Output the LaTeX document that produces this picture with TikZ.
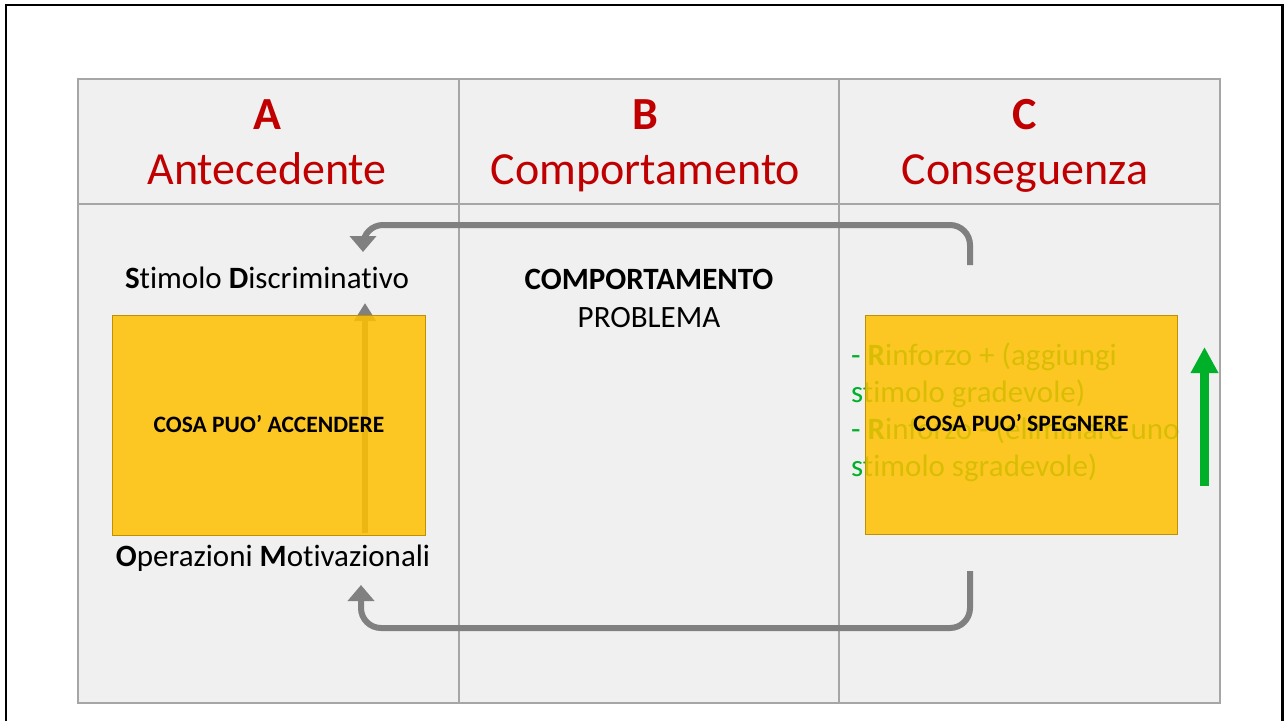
\documentclass[tikz,border=0pt]{standalone}
\usepackage{fontspec}
\setmainfont{Carlito}[Ligatures={NoCommon}]
\usetikzlibrary{arrows.meta}
\definecolor{hdrred}{RGB}{192,0,0}
\definecolor{tablebg}{RGB}{240,240,240}
\definecolor{gridgray}{RGB}{166,166,166}
\definecolor{boxgold}{RGB}{255,192,0}
\definecolor{boxedge}{RGB}{191,144,0}
\definecolor{loopgray}{RGB}{128,128,128}
\definecolor{txtgreen}{RGB}{0,176,40}
\tikzset{
  grid/.style={draw=gridgray, line width=1.3pt},
  hdr/.style={anchor=base, inner sep=0pt, text=hdrred, font=\fontsize{46}{50}\selectfont},
  body/.style={anchor=base, inner sep=0pt, font=\fontsize{31}{36}\selectfont},
  gtext/.style={anchor=base west, inner sep=0pt, text=txtgreen, font=\fontsize{31}{36}\selectfont},
  cosa/.style={anchor=base, inner sep=0pt, font=\bfseries\fontsize{23.5}{27}\selectfont},
  goldbox/.style={fill=boxgold, fill opacity=0.85, draw=boxedge, line width=0.8pt},
  loop/.style={draw=loopgray, line width=6pt, rounded corners=20pt, -{Triangle[width=26pt,length=16pt]}},
}
\begin{document}
\begin{tikzpicture}[x=1pt,y=-1pt]
\useasboundingbox (0,0) rectangle (1284,720);
\clip (0,0) rectangle (1284,720);
\fill[white] (0,0) rectangle (1284,720);
% outer frame
\draw[line width=2.5pt] (6,740) -- (6,5) -- (1282.5,5) -- (1282.5,740);
% table
\fill[tablebg] (78,79) rectangle (1220,703);
\draw[grid] (78,79) rectangle (1220,703);
\draw[grid] (459,79) -- (459,703);
\draw[grid] (839,79) -- (839,703);
\draw[grid] (78,204) -- (1220,204);
% headers
\node[hdr] (hA) at (267,129) {\bfseries A};
\node[hdr] (hAt) at (267,184) {Antecedente};
\node[hdr] (hB) at (645,129) {\bfseries B};
\node[hdr] (hBt) at (645.5,184) {Comportamento};
\node[hdr] (hC) at (1025,129) {\bfseries C};
\node[hdr] (hCt) at (1025,184) {Conseguenza};
% column A texts
\node[body] (sd) at (267,288) {\textbf{S}timolo \textbf{D}iscriminativo};
\node[body] (om) at (273,566) {\textbf{O}perazioni \textbf{M}otivazionali};
% column B texts
\node[body] (cp) at (649,289) {\textbf{COMPORTAMENTO}};
\node[body] (pb) at (649,327) {PROBLEMA};
% green text (behind right box)
\node[gtext] (g1) at (851,365) {- \textbf{R}inforzo + (aggiungi};
\node[gtext] (g2) at (851,402) {stimolo gradevole)};
\node[gtext] (g3) at (851,439) {- \textbf{R}inforzo - (eliminare uno};
\node[gtext] (g4) at (851,476) {stimolo sgradevole)};
% translucent vertical arrow in left box
\coordinate (va1) at (365,533);
\coordinate (va2) at (365,303);
\draw[draw=loopgray, line width=6pt, -{Triangle[width=21pt,length=18pt]}] (va1) -- (va2);
% boxes
\node[goldbox, anchor=north west, minimum width=313pt, minimum height=220pt, inner sep=0pt] (boxA) at (112,315) {};
\node[goldbox, anchor=north west, minimum width=312pt, minimum height=219pt, inner sep=0pt] (boxC) at (865,315) {};
\node[cosa] (accA) at (269,432) {COSA PUO’ ACCENDERE};
\node[cosa] (spC) at (1021,431) {COSA PUO’ SPEGNERE};
% loop arrows
\coordinate (t0) at (970,265);
\coordinate (t1) at (970,225);
\coordinate (t2) at (363,225);
\coordinate (t3) at (363,252);
\draw[loop] (t0) -- (t1) -- (t2) -- (t3);
\coordinate (b0) at (970,571);
\coordinate (b1) at (970,628);
\coordinate (b2) at (361,628);
\coordinate (b3) at (361,585);
\draw[loop] (b0) -- (b1) -- (b2) -- (b3);
% green arrow
\coordinate (ga1) at (1204.5,486);
\coordinate (ga2) at (1204.5,347);
\draw[draw=txtgreen, fill=txtgreen, line width=9pt, -{Triangle[width=26pt,length=26pt]}] (ga1) -- (ga2);
\end{tikzpicture}
\end{document}
